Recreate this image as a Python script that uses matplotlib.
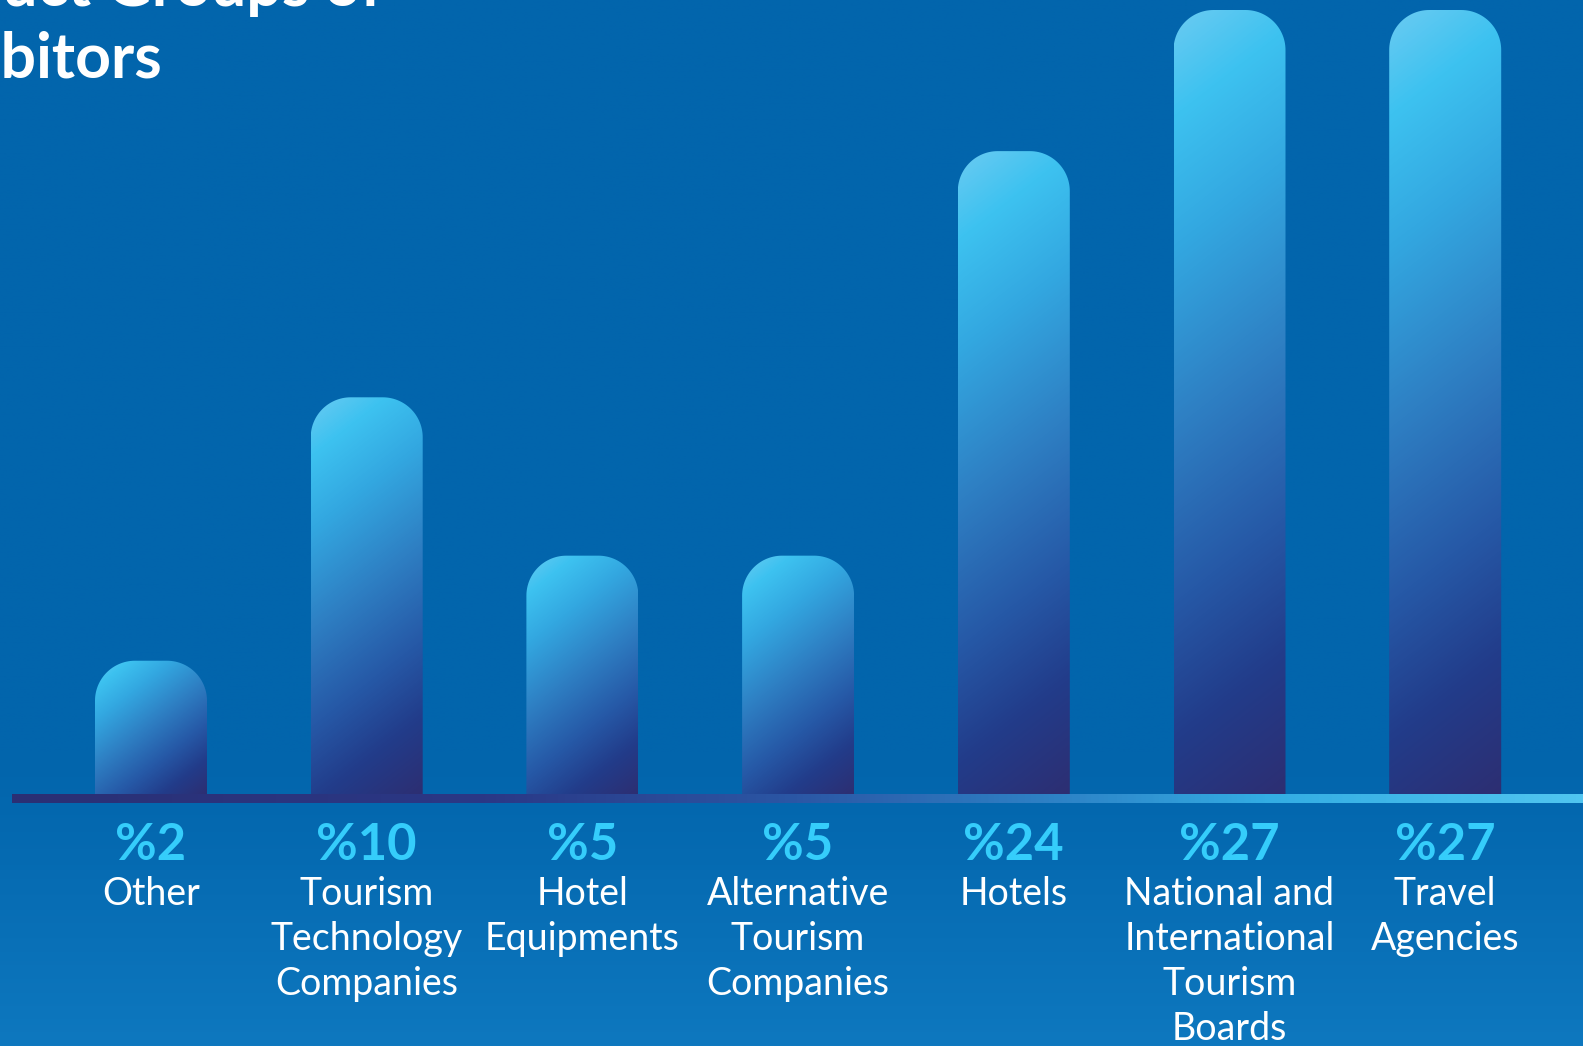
import numpy as np
import matplotlib
matplotlib.use("Agg")
import matplotlib.pyplot as plt
from matplotlib.colors import LinearSegmentedColormap
from matplotlib.path import Path
from matplotlib.patches import PathPatch
import matplotlib.transforms as mtransforms

# ---------------- data ----------------
categories = ["Other", "Tourism\nTechnology\nCompanies", "Hotel\nEquipments",
              "Alternative\nTourism\nCompanies", "Hotels",
              "National and\nInternational\nTourism\nBoards", "Travel\nAgencies"]
percent_labels = ["%2", "%10", "%5", "%5", "%24", "%27", "%27"]
# visual bar heights as drawn in the picture (relative, tallest = 100)
bar_heights = [17.0, 50.6, 30.4, 30.4, 82.0, 100.0, 100.0]
title_lines = ["Product Groups of", "Exhibitors"]

# ---------------- style ----------------
W, H = 1583, 1046
BG = "#0265AC"
CYAN_TXT = "#35CDFB"
FONT = ["Lato", "DejaVu Sans"]

fig = plt.figure(figsize=(W / 100, H / 100), dpi=100)
fig.patch.set_facecolor(BG)

# background: subtle lighter glow toward the bottom
bg_ax = fig.add_axes([0, 0, 1, 1], zorder=0)
bg_ax.set_axis_off()
yy = np.linspace(0, 1, 400)[:, None]
glow = np.clip((yy - 0.72) / 0.28, 0, 1) ** 1.2
base = np.array(matplotlib.colors.to_rgb(BG))
light = np.array(matplotlib.colors.to_rgb("#0E78BF"))
img = base[None, None, :] * (1 - glow[..., None]) + light[None, None, :] * glow[..., None]
img = np.repeat(img, 4, axis=1)
bg_ax.imshow(img, extent=(0, 1, 0, 1), aspect="auto", origin="upper")
bg_ax.set_xlim(0, 1)
bg_ax.set_ylim(0, 1)

# main axes: baseline at y=794 px from top, bar centers at 151 + 215.7*i
x_left_px, base_px = 12, 794
center0, step = 151.0, 215.7
ax = fig.add_axes([x_left_px / W, (H - base_px) / H, (W - x_left_px) / W, base_px / H], zorder=2)
ax.set_axis_off()
ax.patch.set_alpha(0)
ax.set_xlim((x_left_px - center0) / step, (W - center0) / step)
top_px = 784.0
ax.set_ylim(0, base_px / top_px * max(bar_heights))

bar_cmap = LinearSegmentedColormap.from_list(
    "bar", [(0.0, "#6BCBF2"), (0.12, "#3DC2F0"), (0.27, "#33A8E1"),
            (0.48, "#2E7FC3"), (0.68, "#2659A7"), (0.84, "#223C8A"),
            (1.0, "#2D2E72")])

bar_w = 112 / step
radius_px = 40.0
alpha = np.deg2rad(52)
dvec = np.array([np.cos(alpha), np.sin(alpha)])  # pixel space, y down

px_per_x = ax.transData.transform((1, 0))[0] - ax.transData.transform((0, 0))[0]
px_per_y = ax.transData.transform((0, 1))[1] - ax.transData.transform((0, 0))[1]
rx = radius_px / px_per_x
ry = radius_px / px_per_y

for i, h in enumerate(bar_heights):
    x0, x1 = i - bar_w / 2, i + bar_w / 2
    wpx = int(round(bar_w * px_per_x))
    hpx = int(round(h * px_per_y))
    gx, gy = np.meshgrid(np.arange(wpx) + 0.5, np.arange(hpx) + 0.5)
    proj = gx * dvec[0] + gy * dvec[1]
    corners = np.array([[0, 0], [wpx, 0], [0, hpx], [wpx, hpx]]) @ dvec
    t = (proj - corners.min()) / (corners.max() - corners.min())
    im = ax.imshow(bar_cmap(t), extent=(x0, x1, 0, h), origin="upper",
                   aspect="auto", interpolation="bilinear", zorder=3)
    th = np.linspace(np.pi, np.pi / 2, 30)
    left_arc = np.column_stack([x0 + rx + rx * np.cos(th), h - ry + ry * np.sin(th)])
    th2 = np.linspace(np.pi / 2, 0, 30)
    right_arc = np.column_stack([x1 - rx + rx * np.cos(th2), h - ry + ry * np.sin(th2)])
    verts = np.vstack([[x0, 0], [x0, h - ry], left_arc, right_arc, [x1, h - ry], [x1, 0], [x0, 0]])
    clip = PathPatch(Path(verts), transform=ax.transData, facecolor="none", edgecolor="none")
    im.set_clip_path(clip)

ax.set_aspect("auto")

# baseline gradient line (794..803 px)
line_ax = fig.add_axes([x_left_px / W, (H - 803) / H, (W - x_left_px) / W, 9 / H], zorder=3)
line_ax.set_axis_off()
line_cmap = LinearSegmentedColormap.from_list(
    "line", [(0.0, "#2B2F74"), (0.30, "#2A3886"), (0.50, "#2B57A5"),
             (0.68, "#2E86C9"), (0.80, "#33ADE3"), (1.0, "#50C5F0")])
line_ax.imshow(line_cmap(np.linspace(0, 1, 600))[None, :, :], aspect="auto",
               extent=(0, 1, 0, 1))
line_ax.set_xlim(0, 1)
line_ax.set_ylim(0, 1)

# labels below bars
trans = mtransforms.blended_transform_factory(ax.transData, fig.transFigure)
for i, (pct, cat) in enumerate(zip(percent_labels, categories)):
    ax.text(i, (H - 860) / H, pct, transform=trans, ha="center", va="baseline",
            color=CYAN_TXT, fontsize=36.5, fontweight="bold", family=FONT, clip_on=False)
    for j, line in enumerate(cat.split("\n")):
        ax.text(i, (H - (905 + 45 * j)) / H, line, transform=trans, ha="center",
                va="baseline", color="white", fontsize=27, family=FONT, clip_on=False)

# title (clipped at the left edge in the source)
fig.text(383 / W, (H - 6) / H, title_lines[0], ha="right", va="baseline",
         color="white", fontsize=45, fontweight="bold", family=FONT, zorder=5)
fig.text(162 / W, (H - 78) / H, title_lines[1], ha="right", va="baseline",
         color="white", fontsize=45, fontweight="bold", family=FONT, zorder=5)

fig.savefig("out.png", dpi=100, facecolor=fig.get_facecolor())
